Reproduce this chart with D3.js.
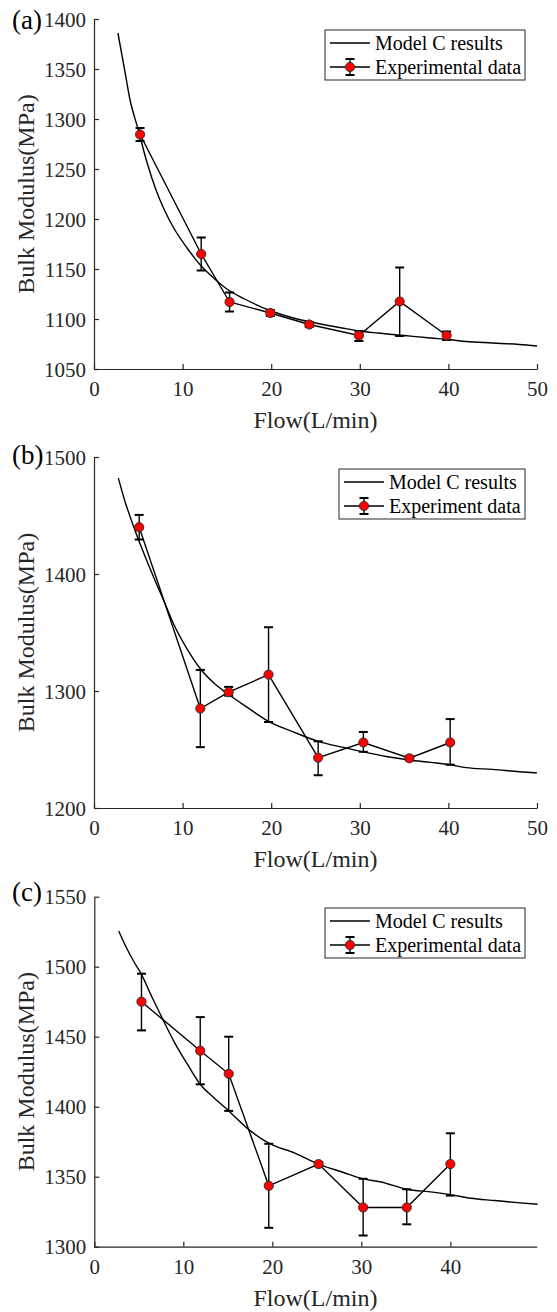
<!DOCTYPE html>
<html>
<head>
<meta charset="utf-8">
<script src="https://cdn.jsdelivr.net/npm/d3@7"></script>
<style>
body { margin: 0; background: #fff; }
svg { display: block; }
svg text { font-family: "Liberation Serif", "Times New Roman", serif; }
</style>
</head>
<body>
<svg id="chart" width="557" height="1312"></svg>
<script>
// (a)
var flowA = [5.2, 12.1, 15.3, 19.9, 24.3, 29.9, 34.5, 39.8],
	bulkA = [1284.5, 1165, 1117, 1106, 1094.5, 1083.5, 1117.5, 1083.5],
	upA   = [1291, 1181.5, 1126.5, 1109, 1097, 1088, 1151.5, 1087.5],
	lowA  = [1278, 1148.5, 1107.5, 1103, 1092, 1078, 1083, 1079];
var modelFlowA = [2.7, 3.5, 4.0, 5.0, 6.0, 7.0, 8.0, 9.0, 10.5, 12.0, 13.5, 15.0, 17.0, 20.0, 22.5, 25, 28, 30, 32, 35, 38, 40, 42, 45, 48, 50],
	modelBulkA = [1386, 1347, 1322, 1289, 1256, 1229, 1208, 1191, 1171, 1154, 1141, 1130, 1120, 1108, 1101, 1096, 1091, 1088, 1086, 1083.5, 1081, 1079.5, 1077.5, 1076, 1074.5, 1073];
var yTicksA = [1050, 1100, 1150, 1200, 1250, 1300, 1350, 1400],
	xTicksA = [0, 10, 20, 30, 40, 50];

// (b)
var flowB = [5.1, 12.0, 15.2, 19.7, 25.3, 30.4, 35.6, 40.2],
	bulkB = [1440, 1285, 1299, 1314, 1243, 1256, 1242.5, 1256],
	upB   = [1450.5, 1318, 1303.5, 1354.5, 1257, 1265, 1244.5, 1276],
	lowB  = [1429.5, 1252, 1296, 1273.5, 1228, 1248, 1240.5, 1237];
var modelFlowB = [2.75, 3.5, 4.5, 5.5, 6.8, 8.0, 9.0, 10.5, 12.0, 13.5, 15.2, 17.5, 19.7, 22.5, 25.3, 28, 30.4, 33, 35.6, 38, 40.2, 42, 45, 48, 50],
	modelBulkB = [1482, 1462, 1440, 1420, 1396, 1375, 1357, 1336, 1319, 1307, 1297, 1285, 1274, 1265, 1257, 1252, 1248, 1244, 1241, 1239, 1237, 1234.5, 1233, 1231, 1230];
var yTicksB = [1200, 1300, 1400, 1500],
	xTicksB = [0, 10, 20, 30, 40, 50];

// (c)
var flowC = [5.3, 11.9, 15.1, 19.6, 25.2, 30.2, 35.1, 40.0],
	bulkC = [1475, 1440, 1423.5, 1343.5, 1359, 1328, 1328, 1359],
	upC   = [1495, 1464, 1450, 1373.5, 1360.5, 1348.5, 1341, 1381],
	lowC  = [1454.5, 1416, 1397, 1313.5, 1357.5, 1308, 1316, 1336.5];
var modelFlowC = [2.74, 3.5, 4.5, 5.25, 6.5, 7.5, 9, 10.5, 11.9, 13.5, 15.1, 17.3, 19.6, 22.6, 25.2, 28, 30.2, 32.1, 35.1, 38, 40, 42.3, 45, 47.5, 49.8],
	modelBulkC = [1525.5, 1515, 1503, 1495, 1478, 1465, 1446, 1430, 1416, 1406, 1397, 1384, 1374, 1366.7, 1359, 1353, 1348.4, 1346.4, 1341, 1339, 1337.2, 1334.6, 1333, 1331.5, 1330.3];
var yTicksC = [1300, 1350, 1400, 1450, 1500, 1550],
	xTicksC = [0, 10, 20, 30, 40];

var svg = d3.select('#chart');
var axisColor = '#262626',
	serif = '"Liberation Serif", "Times New Roman", serif';

var panels = [
	{tag: '(a)', tagY: 29, flow: flowA, bulk: bulkA, up: upA, low: lowA, mFlow: modelFlowA, mBulk: modelBulkA,
	 yTicks: yTicksA, xTicks: xTicksA, xDom: [0, 50], yDom: [1050, 1400], x0: 94, x1: 537, top: 19, bottom: 369,
	 legend: {x: 325, y: 30, w: 200, lx: 330, tx: 375, label: 'Experimental data'}},
	{tag: '(b)', tagY: 464, flow: flowB, bulk: bulkB, up: upB, low: lowB, mFlow: modelFlowB, mBulk: modelBulkB,
	 yTicks: yTicksB, xTicks: xTicksB, xDom: [0, 50], yDom: [1200, 1500], x0: 94, x1: 537, top: 457, bottom: 808,
	 legend: {x: 339, y: 469, w: 186, lx: 344, tx: 389, label: 'Experiment data'}},
	{tag: '(c)', tagY: 901, flow: flowC, bulk: bulkC, up: upC, low: lowC, mFlow: modelFlowC, mBulk: modelBulkC,
	 yTicks: yTicksC, xTicks: xTicksC, xDom: [0, 49.7], yDom: [1300, 1550], x0: 94.3, x1: 536.7, top: 896.7, bottom: 1246.7,
	 legend: {x: 325, y: 908, w: 200, lx: 330, tx: 375, label: 'Experimental data'}}
];

var drawPanel = function(p) {
	var g = svg.append('g').attr('font-family', serif),
		x = d3.scaleLinear().domain(p.xDom).range([p.x0, p.x1]),
		y = d3.scaleLinear().domain(p.yDom).range([p.bottom, p.top]);

	// axes, ticks inside like matlab
	var yAxis = d3.axisLeft(y).tickValues(p.yTicks).tickSizeInner(-5).tickSizeOuter(0).tickPadding(8).tickFormat(d3.format('d'));
	var xAxis = d3.axisBottom(x).tickValues(p.xTicks).tickSizeInner(-5).tickSizeOuter(0).tickPadding(12).tickFormat(d3.format('d'));

	var ya = g.append('g').attr('transform', 'translate(' + p.x0 + ',0)').call(yAxis);
	var xa = g.append('g').attr('transform', 'translate(0,' + p.bottom + ')').call(xAxis);
	[ya, xa].forEach(function(a) {
		a.attr('font-family', serif).attr('font-size', 21);
		a.select('.domain').attr('stroke', axisColor).attr('stroke-width', 1.2);
		a.selectAll('.tick line').attr('stroke', axisColor).attr('stroke-width', 1.2);
		a.selectAll('.tick text').attr('fill', '#262626').attr('font-family', serif);
	});
	ya.selectAll('.tick text').attr('dy', '0.34em');
	xa.selectAll('.tick text').attr('dy', '0.71em');

	g.append('text').attr('x', (p.x0 + p.x1) / 2).attr('y', p.bottom + 59)
		.attr('text-anchor', 'middle').attr('font-size', 24).attr('fill', '#262626')
		.text('Flow(L/min)');
	g.append('text').attr('transform', 'translate(34,' + ((p.top + p.bottom) / 2) + ') rotate(-90)')
		.attr('text-anchor', 'middle').attr('font-size', 24).attr('fill', '#262626')
		.text('Bulk Modulus(MPa)');
	g.append('text').attr('x', 12).attr('y', p.tagY).attr('font-size', 27).attr('fill', '#000')
		.text(p.tag);

	// model curve
	var line = d3.line().x(function(d) { return x(d[0]); }).y(function(d) { return y(d[1]); });
	g.append('path').datum(d3.zip(p.mFlow, p.mBulk))
		.attr('d', line.curve(d3.curveMonotoneX)).attr('fill', 'none').attr('stroke', '#000').attr('stroke-width', 1.4);

	// experiment
	var pts = p.flow.map(function(f, i) { return {f: f, v: p.bulk[i], up: p.up[i], low: p.low[i]}; });
	var line2 = d3.line().x(function(d) { return x(d.f); }).y(function(d) { return y(d.v); });
	g.append('path').datum(pts).attr('d', line2).attr('fill', 'none').attr('stroke', '#000').attr('stroke-width', 1.4);

	var eb = g.selectAll('.eb').data(pts).enter().append('g');
	eb.append('line').attr('x1', function(d) { return x(d.f); }).attr('x2', function(d) { return x(d.f); })
		.attr('y1', function(d) { return y(d.up); }).attr('y2', function(d) { return y(d.low); })
		.attr('stroke', '#000').attr('stroke-width', 1.4);
	['up', 'low'].forEach(function(k) {
		eb.append('line').attr('x1', function(d) { return x(d.f) - 4.5; }).attr('x2', function(d) { return x(d.f) + 4.5; })
			.attr('y1', function(d) { return y(d[k]); }).attr('y2', function(d) { return y(d[k]); })
			.attr('stroke', '#000').attr('stroke-width', 2);
	});
	g.selectAll('.pt').data(pts).enter().append('circle')
		.attr('cx', function(d) { return x(d.f); }).attr('cy', function(d) { return y(d.v); })
		.attr('r', 4.6).attr('fill', '#ff0000').attr('stroke', '#333').attr('stroke-width', 1);

	// legend
	var L = p.legend, r1 = L.y + 13, r2 = L.y + 37, mx = (L.lx + L.tx - 5) / 2;
	g.append('rect').attr('x', L.x).attr('y', L.y).attr('width', L.w).attr('height', 50)
		.attr('fill', '#fff').attr('stroke', '#262626').attr('stroke-width', 1);
	g.append('line').attr('x1', L.lx).attr('x2', L.tx - 5).attr('y1', r1).attr('y2', r1).attr('stroke', '#000').attr('stroke-width', 1.4);
	g.append('line').attr('x1', L.lx).attr('x2', L.tx - 5).attr('y1', r2).attr('y2', r2).attr('stroke', '#000').attr('stroke-width', 1.4);
	g.append('line').attr('x1', mx).attr('x2', mx).attr('y1', r2 - 8).attr('y2', r2 + 8).attr('stroke', '#000').attr('stroke-width', 1.4);
	[r2 - 8, r2 + 8].forEach(function(cy) {
		g.append('line').attr('x1', mx - 4.5).attr('x2', mx + 4.5).attr('y1', cy).attr('y2', cy).attr('stroke', '#000').attr('stroke-width', 2);
	});
	g.append('circle').attr('cx', mx).attr('cy', r2).attr('r', 4.6).attr('fill', '#ff0000').attr('stroke', '#333');
	g.append('text').attr('x', L.tx).attr('y', r1 + 7).attr('font-size', 20).attr('fill', '#000').text('Model C results');
	g.append('text').attr('x', L.tx).attr('y', r2 + 7).attr('font-size', 20).attr('fill', '#000').text(L.label);
};

panels.forEach(drawPanel);
</script>
</body>
</html>
